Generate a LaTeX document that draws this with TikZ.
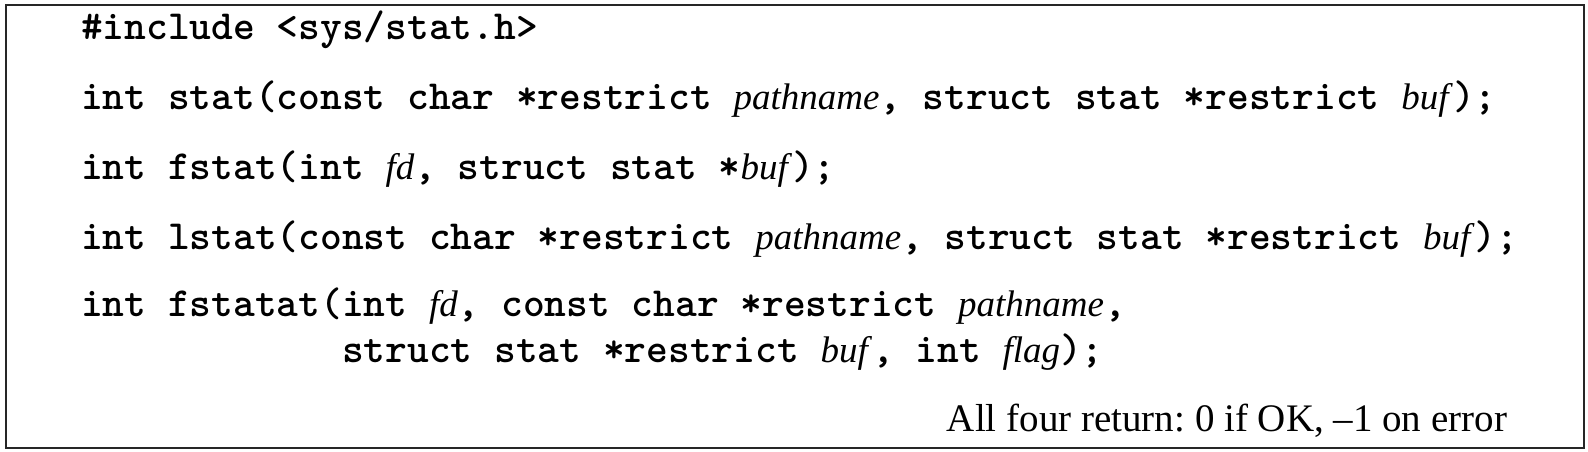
\documentclass[tikz,border=0pt]{standalone}
\usepackage{fontspec}
\setmainfont{Liberation Serif}
\newfontfamily\cmono{lmmonolt10-bold.otf}
\newcommand{\mysz}{\fontsize{41.43}{44}\selectfont}
\newcommand{\parg}[1]{{\rmfamily\mdseries\itshape\fontsize{37}{40}\selectfont #1\/}}
\tikzset{
  codeline/.style={anchor=base west, inner sep=0pt, outer sep=0pt, font=\cmono\mysz},
  note/.style={anchor=base east, inner sep=0pt, outer sep=0pt},
  frame/.style={draw=black!85, line width=1.6pt}
}
\begin{document}
\frenchspacing
\begin{tikzpicture}[x=1pt,y=-1pt]
\useasboundingbox (0,0) rectangle (1588,452);
\node[frame, rectangle, minimum width=1578pt, minimum height=443pt, anchor=north west, inner sep=0pt] (box) at (5,4) {};
\node[codeline] (inc) at (81,40) {\#include <sys/stat.h>};
\node[codeline] (stat) at (81,109) {int stat(const char *restrict \parg{pathname}, struct stat *restrict \parg{buf});};
\node[codeline] (fstat) at (81,179) {int fstat(int \parg{fd}, struct stat *\parg{buf});};
\node[codeline] (lstat) at (81,249) {int lstat(const char *restrict \parg{pathname}, struct stat *restrict \parg{buf});};
\node[codeline] (fstatat) at (81,316) {int fstatat(int \parg{fd}, const char *restrict \parg{pathname},};
\node[codeline] (fstatat2) at (342,362) {struct stat *restrict \parg{buf}, int \parg{flag});};
\node[note] (ret) at (1507,431) {\resizebox{560pt}{!}{\frenchspacing All four return: 0 if OK, –1 on error}};
\end{tikzpicture}
\end{document}
